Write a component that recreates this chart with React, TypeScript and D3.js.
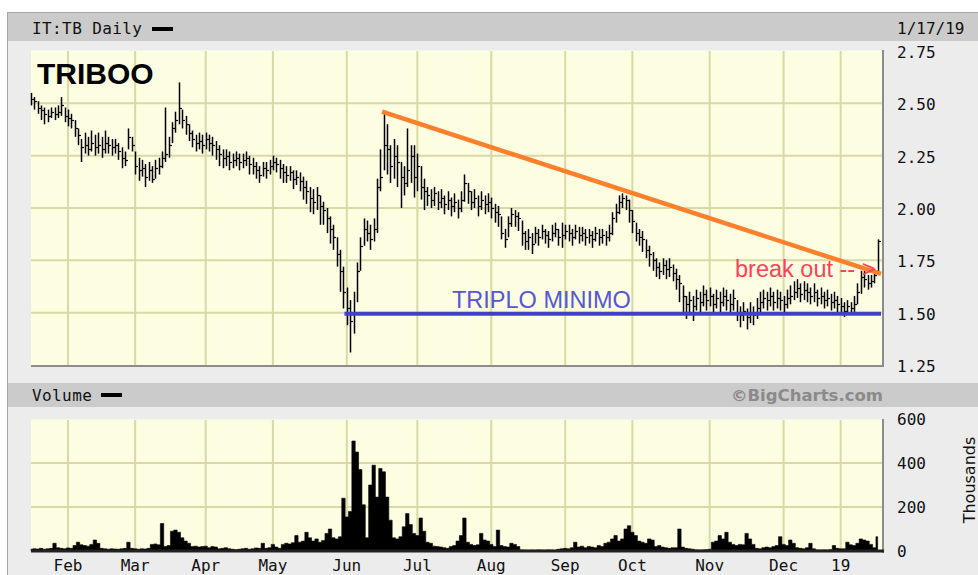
import React from 'react';
import * as d3 from 'd3';

// ---- data ----
const closes = [
  2.52,2.51,2.48,2.47,2.45,2.44,2.46,2.45,2.46,2.49,
  2.44,2.43,2.42,2.38,2.35,2.29,2.30,2.28,2.31,2.29,
  2.30,2.28,2.31,2.30,2.29,2.30,2.27,2.24,2.23,2.34,
  2.30,2.20,2.18,2.19,2.15,2.18,2.14,2.19,2.20,2.24,
  2.26,2.30,2.38,2.42,2.48,2.42,2.40,2.36,2.33,2.31,
  2.32,2.30,2.33,2.31,2.30,2.28,2.26,2.24,2.25,2.22,
  2.23,2.24,2.22,2.23,2.24,2.21,2.20,2.18,2.16,2.19,
  2.18,2.20,2.22,2.21,2.19,2.17,2.16,2.17,2.14,2.15,
  2.13,2.10,2.08,2.05,2.03,2.06,2.01,1.99,1.95,1.90,
  1.86,1.78,1.70,1.60,1.52,1.46,1.50,1.70,1.82,1.90,
  1.88,1.85,1.90,2.10,2.15,2.30,2.28,2.20,2.25,2.22,
  2.15,2.12,2.18,2.25,2.15,2.20,2.10,2.08,2.06,2.04,
  2.07,2.03,2.05,2.02,2.04,2.01,2.03,2.00,2.04,2.12,
  2.08,2.03,2.05,2.01,2.04,2.02,2.03,2.00,1.98,1.97,
  1.88,1.85,1.93,1.97,1.96,1.95,1.88,1.84,1.86,1.83,
  1.88,1.86,1.89,1.87,1.85,1.88,1.90,1.86,1.87,1.89,
  1.88,1.86,1.89,1.87,1.88,1.86,1.87,1.85,1.88,1.86,
  1.87,1.86,1.88,1.95,1.98,2.03,2.05,2.04,1.99,1.94,
  1.88,1.86,1.85,1.80,1.78,1.75,1.72,1.70,1.73,1.71,
  1.72,1.69,1.66,1.64,1.58,1.54,1.56,1.53,1.57,1.55,
  1.59,1.56,1.58,1.54,1.57,1.55,1.58,1.56,1.54,1.57,
  1.50,1.49,1.51,1.48,1.50,1.49,1.52,1.55,1.57,1.56,
  1.58,1.55,1.57,1.56,1.54,1.57,1.58,1.60,1.62,1.59,
  1.61,1.60,1.58,1.60,1.57,1.58,1.56,1.57,1.55,1.56,
  1.54,1.53,1.51,1.53,1.52,1.54,1.60,1.67,1.66,1.64,
  1.65,1.68,1.84,
];

const highs = [
  2.55,2.53,2.51,2.49,2.48,2.47,2.48,2.48,2.49,2.53,
  2.48,2.47,2.45,2.42,2.38,2.33,2.36,2.34,2.37,2.35,
  2.36,2.34,2.37,2.34,2.33,2.33,2.31,2.29,2.27,2.38,
  2.34,2.27,2.24,2.23,2.21,2.22,2.20,2.23,2.24,2.27,
  2.48,2.34,2.41,2.46,2.60,2.47,2.44,2.40,2.37,2.35,
  2.36,2.35,2.36,2.35,2.34,2.32,2.30,2.28,2.28,2.27,
  2.26,2.27,2.26,2.26,2.27,2.25,2.24,2.22,2.20,2.22,
  2.22,2.23,2.25,2.24,2.23,2.21,2.20,2.20,2.18,2.18,
  2.17,2.15,2.13,2.10,2.09,2.10,2.06,2.03,2.00,1.96,
  1.92,1.86,1.80,1.72,1.62,1.56,1.60,1.74,1.86,1.95,
  1.94,1.92,1.95,2.14,2.28,2.45,2.40,2.30,2.33,2.30,
  2.22,2.20,2.38,2.30,2.30,2.26,2.20,2.14,2.10,2.09,
  2.10,2.08,2.09,2.06,2.08,2.05,2.07,2.04,2.08,2.16,
  2.12,2.08,2.09,2.06,2.08,2.06,2.07,2.05,2.02,2.01,
  1.96,1.90,1.96,2.00,1.99,1.98,1.94,1.89,1.90,1.88,
  1.91,1.90,1.92,1.90,1.89,1.92,1.93,1.90,1.93,1.92,
  1.92,1.90,1.92,1.91,1.91,1.90,1.90,1.89,1.91,1.90,
  1.90,1.89,1.92,1.98,2.02,2.06,2.07,2.06,2.04,1.99,
  1.93,1.90,1.89,1.85,1.82,1.79,1.76,1.74,1.76,1.75,
  1.76,1.73,1.71,1.68,1.63,1.58,1.60,1.58,1.61,1.60,
  1.63,1.61,1.62,1.59,1.61,1.60,1.62,1.61,1.59,1.61,
  1.56,1.53,1.55,1.52,1.55,1.53,1.57,1.60,1.61,1.60,
  1.62,1.60,1.61,1.60,1.58,1.61,1.63,1.65,1.66,1.64,
  1.65,1.64,1.62,1.64,1.61,1.62,1.60,1.61,1.59,1.60,
  1.58,1.57,1.55,1.56,1.55,1.58,1.64,1.70,1.70,1.68,
  1.68,1.71,1.85,
];

const lows = [
  2.49,2.47,2.45,2.42,2.40,2.41,2.43,2.42,2.43,2.44,
  2.41,2.39,2.38,2.34,2.30,2.22,2.26,2.25,2.27,2.25,
  2.26,2.24,2.26,2.26,2.25,2.26,2.23,2.19,2.20,2.28,
  2.27,2.16,2.13,2.15,2.10,2.13,2.12,2.14,2.16,2.19,
  2.22,2.24,2.31,2.36,2.40,2.38,2.35,2.32,2.29,2.27,
  2.28,2.26,2.28,2.27,2.25,2.23,2.20,2.19,2.20,2.18,
  2.19,2.20,2.18,2.19,2.20,2.16,2.16,2.14,2.12,2.15,
  2.14,2.16,2.18,2.17,2.14,2.12,2.12,2.13,2.09,2.11,
  2.08,2.04,2.02,1.98,1.97,1.99,1.92,1.92,1.88,1.83,
  1.80,1.72,1.60,1.52,1.44,1.31,1.40,1.55,1.70,1.82,
  1.84,1.80,1.84,1.88,2.08,2.18,2.16,2.12,2.14,2.10,
  2.00,2.06,2.10,2.12,2.05,2.08,2.04,1.99,2.01,2.00,
  2.01,1.99,2.00,1.97,1.99,1.96,1.98,1.95,1.98,2.03,
  2.02,1.99,2.00,1.96,1.99,1.97,1.98,1.95,1.93,1.91,
  1.85,1.81,1.86,1.91,1.91,1.89,1.82,1.80,1.80,1.78,
  1.83,1.82,1.85,1.83,1.81,1.84,1.86,1.82,1.81,1.85,
  1.84,1.82,1.85,1.83,1.84,1.82,1.83,1.81,1.84,1.82,
  1.83,1.82,1.84,1.87,1.93,1.97,2.00,1.99,1.93,1.88,
  1.84,1.82,1.79,1.76,1.72,1.70,1.67,1.66,1.68,1.66,
  1.67,1.65,1.61,1.55,1.50,1.47,1.50,1.46,1.51,1.49,
  1.53,1.51,1.53,1.49,1.52,1.50,1.53,1.51,1.49,1.51,
  1.46,1.43,1.46,1.42,1.45,1.44,1.47,1.50,1.52,1.51,
  1.53,1.51,1.52,1.51,1.50,1.52,1.54,1.56,1.57,1.55,
  1.56,1.55,1.54,1.55,1.53,1.54,1.52,1.53,1.51,1.52,
  1.50,1.49,1.48,1.49,1.49,1.50,1.54,1.59,1.62,1.61,
  1.62,1.64,1.68,
];

// volume in thousands
const volumes = [
  8,10,9,12,8,10,12,35,15,12,
  10,14,12,25,40,28,25,22,30,50,
  35,12,10,8,10,9,8,10,12,40,
  12,10,8,10,9,12,30,32,28,125,
  20,25,90,95,85,60,45,35,20,22,
  18,20,22,15,20,18,10,12,15,10,
  8,6,8,10,12,8,10,14,12,35,
  12,15,30,18,12,30,35,32,38,70,
  40,45,85,60,45,55,40,48,80,100,
  60,55,65,240,155,180,500,450,370,210,
  60,300,390,245,375,360,245,140,60,55,
  65,110,170,120,80,70,150,90,40,35,
  22,20,18,15,12,20,25,45,70,150,
  40,30,25,28,80,50,45,30,20,95,
  25,20,18,35,30,20,5,4,3,4,
  3,5,4,3,5,4,3,8,10,12,
  10,15,40,18,22,15,20,18,15,25,
  20,35,40,55,70,45,55,100,115,85,
  70,45,40,35,55,50,20,25,18,15,
  12,15,15,100,18,12,10,8,5,4,
  5,6,8,40,45,70,55,85,40,30,
  25,30,28,80,55,30,12,10,15,18,
  15,20,25,65,30,25,50,35,15,12,
  10,15,35,10,5,4,5,4,6,25,
  12,10,10,40,28,25,35,55,50,45,
  30,15,65,
];

const monthLabels = ['Feb', 'Mar', 'Apr', 'May', 'Jun', 'Jul', 'Aug', 'Sep', 'Oct', 'Nov', 'Dec', '19'];
const monthIndex = [11, 31, 52, 72, 94, 115, 137, 159, 179, 202, 224, 241];
const priceTicks = [2.75, 2.5, 2.25, 2.0, 1.75, 1.5, 1.25];
const priceGrid = [2.5, 2.25, 2.0, 1.75, 1.5];
const volumeTicks = [600, 400, 200, 0];
const volumeGrid = [400, 200];
const trendIdx = [104.5, 253];
const trendPrice = [2.46, 1.685];
const supportIdx = [93.3, 253];
const supportPrice = [1.495, 1.495];

const W = 978;
const H = 575;
const PL = 31, PR = 882;
const PT = 50, PB = 365;
const VT = 419, VB = 551;

const MONO = '"DejaVu Sans Mono", monospace';
const GRID = '#d9d9a6';
const PLOT_BG = '#fdfde2';

export default function App() {
  const x = d3.scaleLinear().domain([0, 253]).range([PL, 881]);
  const yP = d3.scaleLinear().domain([1.25, 2.75]).range([PB, 51]);
  const yV = d3.scaleLinear().domain([0, 600]).range([VB, VT]);
  const fmt = d3.format('.2f');

  const volArea = d3
    .area<number>()
    .x((_, i) => x(i))
    .y0(yV(0))
    .y1((d) => yV(d))
    .curve(d3.curveStep);

  const trendLine = d3
    .line<number>()
    .x((d) => x(d))
    .y((_, i) => yP(trendPrice[i]));
  const supportLine = d3
    .line<number>()
    .x((d) => x(d))
    .y((_, i) => yP(supportPrice[i]));

  return (
    <svg
      width={W}
      height={H}
      style={{ position: 'absolute', left: 0, top: 0, background: '#fff' }}
    >
      {/* outer panel */}
      <rect x={7.5} y={12.5} width={975} height={570} fill="#ececec" stroke="#a6a6a6" />
      <rect x={8} y={13} width={975} height={28} fill="#cbcbcb" />
      <rect x={8} y={383} width={975} height={24} fill="#cbcbcb" />

      {/* header texts */}
      <text x={32} y={33.5} fontFamily={MONO} fontSize={16} fill="#111" letterSpacing={0.4}>
        IT:TB Daily
      </text>
      <rect x={152} y={27} width={21} height={4} fill="#000" />
      <text x={897} y={33.5} fontFamily={MONO} fontSize={16} fill="#111">
        1/17/19
      </text>

      <text x={32} y={401} fontFamily={MONO} fontSize={16} fill="#111" letterSpacing={0.4}>
        Volume
      </text>
      <rect x={101} y={393} width={21} height={4} fill="#000" />
      <text
        x={883}
        y={401}
        textAnchor="end"
        fontFamily='"DejaVu Sans", sans-serif'
        fontWeight="bold"
        fontSize={16.5}
        fill="#8a8a8a"
      >
        ©BigCharts.com
      </text>

      {/* price plot */}
      <rect x={PL} y={PT} width={PR - PL} height={PB - PT} fill={PLOT_BG} />
      {priceGrid.map((p) => (
        <line key={'pg' + p} x1={PL} x2={PR} y1={yP(p)} y2={yP(p)} stroke={GRID} strokeWidth={2} />
      ))}
      {monthIndex.map((m) => (
        <line key={'pm' + m} x1={x(m)} x2={x(m)} y1={PT} y2={PB} stroke={GRID} strokeWidth={2} />
      ))}
      <line x1={PL} x2={PR} y1={PT + 0.5} y2={PT + 0.5} stroke="#f4f4f0" />
      <line x1={PR + 1} x2={PR + 1} y1={PT} y2={PB + 2} stroke="#8c8c8c" strokeWidth={2} />
      <line x1={PL} x2={PR + 2} y1={PB + 1} y2={PB + 1} stroke="#8c8c8c" strokeWidth={2} />

      {/* OHLC bars */}
      <g stroke="#000" strokeWidth={1.5}>
        {closes.map((c, i) => {
          const cx = Math.round(x(i)) + 0.5;
          const cy = Math.round(yP(c)) + 0.5;
          return (
            <g key={'b' + i}>
              <line x1={cx} x2={cx} y1={yP(highs[i])} y2={yP(lows[i])} />
              <line x1={cx} x2={cx + 2.5} y1={cy} y2={cy} strokeWidth={1.2} />
            </g>
          );
        })}
      </g>

      {/* annotations */}
      <path d={trendLine(trendIdx) || ''} stroke="#ff7f2a" strokeWidth={4.5} fill="none" />
      <path d={supportLine(supportIdx) || ''} stroke="#4040cc" strokeWidth={4} fill="none" />
      <text
        x={37}
        y={84}
        fontFamily='"Liberation Sans", Arial, sans-serif'
        fontWeight="bold"
        fontSize={30}
        fill="#000"
      >
        TRIBOO
      </text>
      <text
        x={452}
        y={308}
        fontFamily='"Liberation Sans", Arial, sans-serif'
        fontSize={23.5}
        fill="#5656d6"
      >
        TRIPLO MINIMO
      </text>
      <text
        x={735}
        y={277}
        fontFamily='"Liberation Sans", Arial, sans-serif'
        fontSize={23.5}
        fill="#ff4057"
      >
        break out -- &gt;
      </text>

      {/* price axis labels */}
      {priceTicks.map((p) => (
        <text key={'pt' + p} x={897} y={yP(p) + 7} fontFamily={MONO} fontSize={16} fill="#111">
          {fmt(p)}
        </text>
      ))}

      {/* volume plot */}
      <rect x={PL} y={VT} width={PR - PL} height={VB - VT} fill={PLOT_BG} />
      {volumeGrid.map((v) => (
        <line key={'vg' + v} x1={PL} x2={PR} y1={yV(v)} y2={yV(v)} stroke={GRID} strokeWidth={2} />
      ))}
      {monthIndex.map((m) => (
        <line key={'vm' + m} x1={x(m)} x2={x(m)} y1={VT} y2={VB} stroke={GRID} strokeWidth={2} />
      ))}
      <path d={volArea(volumes) || ''} fill="#000" stroke="#000" strokeWidth={0.6} />
      <line x1={PL} x2={PR} y1={VT + 0.5} y2={VT + 0.5} stroke="#f4f4f0" />
      <line x1={PR + 1} x2={PR + 1} y1={VT} y2={VB + 2} stroke="#8c8c8c" strokeWidth={2} />
      <line x1={PL} x2={PR + 2} y1={VB} y2={VB} stroke="#222" strokeWidth={3} />

      {volumeTicks.map((v) => (
        <text key={'vt' + v} x={897} y={yV(v) + 6} fontFamily={MONO} fontSize={16} fill="#111">
          {v}
        </text>
      ))}
      <text
        transform="translate(975,480) rotate(-90)"
        textAnchor="middle"
        fontFamily='"DejaVu Sans", sans-serif'
        fontSize={16}
        fill="#111"
      >
        Thousands
      </text>

      {/* month labels */}
      {monthIndex.map((m, k) => (
        <text
          key={'ml' + m}
          x={x(m)}
          y={571}
          textAnchor="middle"
          fontFamily={MONO}
          fontSize={16}
          fill="#111"
        >
          {monthLabels[k]}
        </text>
      ))}
    </svg>
  );
}
